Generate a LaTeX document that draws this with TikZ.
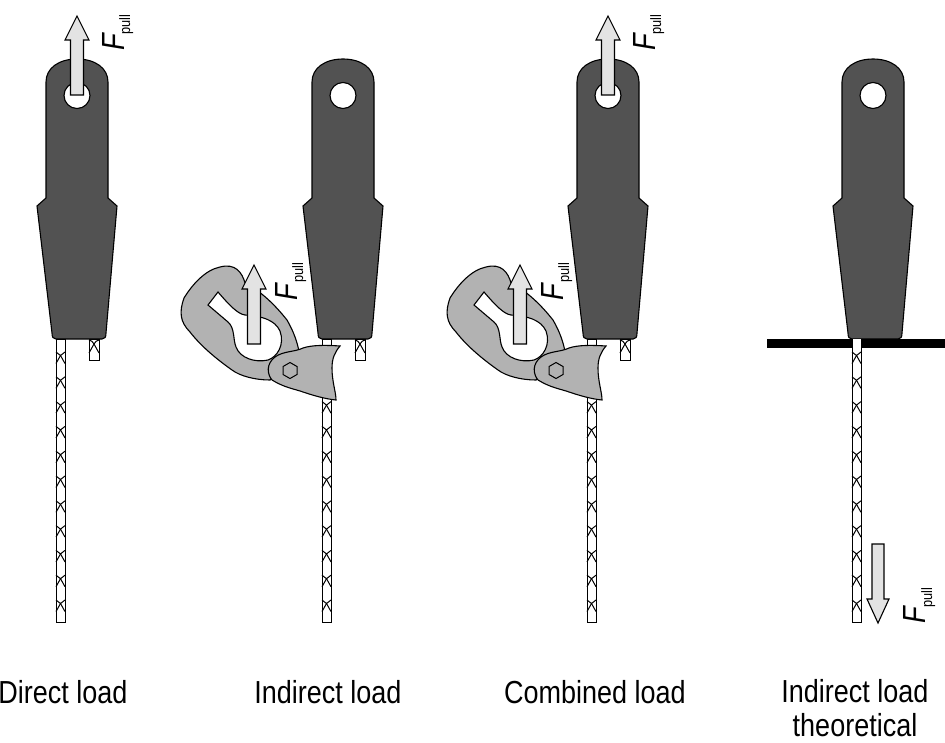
\documentclass[tikz,border=0pt]{standalone}
\usepackage{fontspec}
\setmainfont{Liberation Sans}
\newcommand{\gripbody}[1]{
	\begin{scope}[xshift=#1]
		\draw[gripfill,even odd rule] (-31,82) .. controls (-31,68) and (-18,59) .. (0,59) .. controls (18,59) and (31,68) .. (31,82)
			-- (31,198) -- (40,206) -- (29,333) .. controls (29,337) and (28,339) .. (25,339) -- (-21,339) .. controls (-24,339) and (-25,337) .. (-25,333)
			-- (-40,206) -- (-31,198) -- cycle
			(13,95.5) arc[start angle=0,end angle=360,radius=13];
	\end{scope}
}
\newcommand{\roperun}[1]{
	\begin{scope}[xshift=#1]
		\draw[ropeline,fill=white] (-21,339) rectangle (-12,622);
		\foreach \ypos in {355.5,380.3,405.1,429.9,454.7,479.5,504.3,529.1,553.9,578.7,603.5} {
			\draw[ropeline] (-21,\ypos-3.5) .. controls (-18,\ypos-2) .. (-16.5,\ypos) .. controls (-15,\ypos-2) .. (-12,\ypos-3.5);
			\draw[ropeline] (-16.5,\ypos) -- (-21,\ypos+8);
			\draw[ropeline] (-16.5,\ypos) -- (-12,\ypos+8);
		}
	\end{scope}
}
\newcommand{\ropetail}[1]{
	\begin{scope}[xshift=#1]
		\draw[ropeline,fill=white] (12,339) rectangle (22,360);
		\draw[ropeline] (17,344) -- (12,353);
		\draw[ropeline] (17,344) -- (22,353);
		\draw[ropeline] (12,340) .. controls (15,341) .. (17,344) .. controls (19,341) .. (22,340);
	\end{scope}
}
\newcommand{\pullup}[2]{
	\begin{scope}[shift={(#1,#2)}]
		\draw[arrowfill] (-6.5,79) -- (-6.5,24) -- (-12,24) -- (0,0) -- (12,24) -- (6.5,24) -- (6.5,79) -- cycle;
	\end{scope}
}
\newcommand{\camlatch}[1]{
	\begin{scope}[xshift=#1]
		% cam with its slot
		\draw[camfill,even odd rule] (220,267) .. controls (235,263) and (242,272) .. (245,283)
			.. controls (262,292) and (275,305) .. (287,320) .. controls (294,332) and (297,342) .. (299,351)
			-- (270,380) .. controls (255,380) and (240,376) .. (232,370)
			.. controls (215,358) and (200,345) .. (190,332)
			.. controls (180,322) and (179,312) .. (184,298) .. controls (192,285) and (205,270) .. (220,267) -- cycle
			(218,292) -- (208,305) -- (228,322) .. controls (235,328) and (233,340) .. (236,347)
			.. controls (240,358) and (255,363) .. (268,360) .. controls (277,357) and (285,345) .. (280,331)
			.. controls (275,320) and (262,316) .. (245,315) .. controls (238,314) and (230,306) .. (218,292) -- cycle;
		\pullup{254}{265}
		% latch
		\draw[camfill] (303,348) .. controls (312,345) and (325,345) .. (340,346)
			.. controls (335,352) and (332,358) .. (332,368) .. controls (332,382) and (336,392) .. (336,400)
			.. controls (325,399) and (312,395) .. (303,392) .. controls (295,389) and (285,388) .. (272,380)
			.. controls (267,374) and (266,364) .. (275,357) .. controls (283,351) and (295,352) .. (303,348) -- cycle;
		\draw[ropeline] (290,362.5) -- (297,366.5) -- (297,374.5) -- (290,378.5) -- (283,374.5) -- (283,366.5) -- cycle;
		\node[forcelabel] (camforce#1) at (297,301) {F};
		\node[subscriptlabel] (campull#1) at (303,283) {pull};
	\end{scope}
}
\begin{document}
\begin{tikzpicture}[x=1pt,y=-1pt,
	gripfill/.style={draw=black,line width=1.1pt,fill=black!68},
	ropeline/.style={draw=black,line width=1pt},
	arrowfill/.style={draw=black,line width=1.1pt,fill=black!11},
	camfill/.style={draw=black,line width=1.1pt,fill=black!30},
	forcelabel/.style={rotate=90,xscale=0.85,transform shape,anchor=base west,inner sep=0pt,font=\fontsize{32}{32}\selectfont\itshape},
	subscriptlabel/.style={rotate=90,xscale=0.85,transform shape,anchor=base west,inner sep=0pt,font=\fontsize{15}{15}\selectfont},
	loadlabel/.style={inner sep=0pt,align=center,yscale=1.18,transform shape,font=\fontsize{27}{29}\selectfont}]
	\useasboundingbox (0,0) rectangle (945,742);

	% direct load
	\roperun{77pt}
	\ropetail{77pt}
	\gripbody{77pt}
	\pullup{77}{16}
	\node[forcelabel] (force1) at (124,51) {F};
	\node[subscriptlabel] (pull1) at (130,35) {pull};

	% indirect load
	\roperun{343pt}
	\ropetail{343pt}
	\gripbody{343pt}
	\camlatch{0pt}

	% combined load
	\roperun{608pt}
	\ropetail{608pt}
	\gripbody{608pt}
	\camlatch{266pt}
	\pullup{608}{16}
	\node[forcelabel] (force3) at (655,51) {F};
	\node[subscriptlabel] (pull3) at (661,35) {pull};

	% indirect load theoretical
	\roperun{873pt}
	\gripbody{873pt}
	\fill[black] (767,339) rectangle (945,348);
	\fill[white] (852.5,339) rectangle (860.5,348);
	\draw[arrowfill] (872,544) -- (884,544) -- (884,599) -- (889,599) -- (878,623) -- (867,599) -- (872,599) -- cycle;
	\node[forcelabel] (force4) at (925,624) {F};
	\node[subscriptlabel] (pull4) at (932,608) {pull};

	\node[loadlabel] (direct) at (63,692) {Direct load};
	\node[loadlabel] (indirect) at (328,692) {Indirect load};
	\node[loadlabel] (combined) at (595,692) {Combined load};
	\node[loadlabel] (theoretical) at (855,708) {Indirect load\\theoretical};
\end{tikzpicture}
\end{document}
